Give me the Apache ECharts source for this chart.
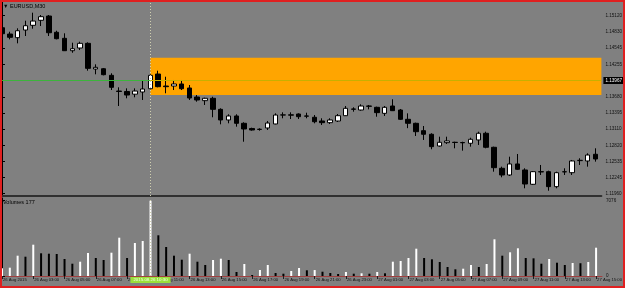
<!DOCTYPE html>
<html><head><meta charset="utf-8">
<script src="https://cdn.jsdelivr.net/npm/echarts@6/dist/echarts.min.js"></script>
<style>html,body{margin:0;padding:0;background:#808080}#c{width:625px;height:288px}</style>
</head><body><div id="c"></div>
<script>
// ---- data (EURUSD M30, one candle per half hour starting 26 Aug 2015 01:00) ----
const opens  = [1.14907,1.14795,1.14730,1.14866,1.14950,1.15039,1.15115,1.14826,1.14719,1.14499,
                1.14547,1.14630,1.14174,1.14179,1.14062,1.13783,1.13775,1.13727,1.13766,1.13824,
                1.14085,1.13872,1.13872,1.13908,1.13837,1.13677,1.13612,1.13654,1.13458,1.13269,
                1.13340,1.13210,1.13118,1.13104,1.13127,1.13198,1.13357,1.13360,1.13375,1.13340,
                1.13317,1.13251,1.13221,1.13251,1.13345,1.13464,1.13446,1.13517,1.13494,1.13387,
                1.13517,1.13446,1.13281,1.13210,1.13079,1.13015,1.12807,1.12866,1.12873,1.12869,
                1.12855,1.12914,1.13033,1.12784,1.12411,1.12292,1.12488,1.12381,1.12127,1.12351,
                1.12351,1.12085,1.12347,1.12333,1.12547,1.12541,1.12660];
const closes = [1.14801,1.14737,1.14854,1.14943,1.15026,1.15103,1.14818,1.14712,1.14499,1.14534,
                1.14630,1.14186,1.14204,1.14073,1.13849,1.13775,1.13712,1.13783,1.13819,1.14062,
                1.13860,1.13860,1.13908,1.13824,1.13659,1.13624,1.13654,1.13458,1.13269,1.13340,
                1.13210,1.13109,1.13091,1.13102,1.13215,1.13357,1.13360,1.13355,1.13327,1.13337,
                1.13238,1.13221,1.13269,1.13345,1.13476,1.13460,1.13517,1.13512,1.13399,1.13494,
                1.13434,1.13281,1.13210,1.13061,1.13015,1.12795,1.12873,1.12896,1.12869,1.12864,
                1.12926,1.13033,1.12784,1.12422,1.12292,1.12488,1.12393,1.12132,1.12351,1.12347,
                1.12085,1.12333,1.12351,1.12541,1.12553,1.12647,1.12576];
const lows   = [1.14760,1.14701,1.14630,1.14760,1.14890,1.14937,1.14760,1.14701,1.14494,1.14463,
                1.14511,1.14144,1.14080,1.14062,1.13801,1.13517,1.13654,1.13672,1.13624,1.13814,
                1.13849,1.13743,1.13801,1.13801,1.13624,1.13594,1.13535,1.13317,1.13192,1.13210,
                1.13150,1.12883,1.13079,1.13079,1.13091,1.13192,1.13299,1.13286,1.13286,1.13299,
                1.13210,1.13180,1.13198,1.13233,1.13340,1.13416,1.13434,1.13458,1.13327,1.13340,
                1.13428,1.13269,1.13124,1.12985,1.12914,1.12749,1.12795,1.12843,1.12766,1.12724,
                1.12795,1.12825,1.12766,1.12351,1.12251,1.12274,1.12381,1.12056,1.12115,1.12292,
                1.12013,1.12056,1.12292,1.12292,1.12470,1.12440,1.12529];
const highs  = [1.14937,1.14836,1.14897,1.15032,1.15174,1.15133,1.15133,1.14854,1.14808,1.14641,
                1.14659,1.14648,1.14257,1.14192,1.14098,1.13849,1.13831,1.13831,1.13979,1.14080,
                1.14144,1.14037,1.13979,1.13979,1.13890,1.13712,1.13664,1.13682,1.13476,1.13370,
                1.13370,1.13228,1.13132,1.13121,1.13251,1.13387,1.13405,1.13405,1.13387,1.13398,
                1.13357,1.13299,1.13299,1.13375,1.13517,1.13494,1.13547,1.13535,1.13505,1.13517,
                1.13636,1.13464,1.13387,1.13221,1.13162,1.13033,1.12972,1.12972,1.12883,1.12883,
                1.12954,1.13061,1.13061,1.12795,1.12440,1.12617,1.12665,1.12411,1.12363,1.12470,
                1.12369,1.12351,1.12411,1.12559,1.12589,1.12677,1.12766];
const volumes = [724,780,1908,1814,2942,2134,2096,2068,1598,1156,
                 1344,2162,1692,1504,2190,3600,1692,3102,3290,7076,
                 3826,2726,1908,1532,2096,1344,1034,1504,1626,1504,
                 376,1128,94,564,1034,282,216,470,752,536,
                 560,404,282,188,376,216,254,216,376,254,
                 1344,1410,1692,2566,1692,1570,1316,846,630,686,
                 1034,846,1128,3450,1908,2228,2604,1692,1660,1156,
                 1598,1250,1034,1222,1200,1316,2660];
const timeTickIndex  = [0,4,8,12,16,20,24,28,32,36,40,44,48,52,56,60,64,68,72,76];
const timeTickLabels = ['26 Aug 2015','26 Aug 03:00','26 Aug 05:00','26 Aug 07:00','26 Aug 09:00',
  '26 Aug 11:00','26 Aug 13:00','26 Aug 15:00','26 Aug 17:00','26 Aug 19:00','26 Aug 21:00',
  '26 Aug 23:00','27 Aug 01:00','27 Aug 03:00','27 Aug 05:00','27 Aug 07:00','27 Aug 09:00',
  '27 Aug 11:00','27 Aug 13:00','27 Aug 15:00'];
const priceTicks  = [1.15120,1.14830,1.14545,1.14255,1.13680,1.13395,1.13110,1.12820,1.12535,1.12245,1.11960];
const volumeTicks = [0,7076];
const rectStart = 19, rectHigh = 1.14375, rectLow = 1.13712;
const levelPrice = 1.13970, levelLabel = '1.13967';
const cursorIndex = 19, cursorLabel = '2015.08.26 10:30';
const titleText = '\u25BC EURUSD,M30', volumeTitle = 'Volumes 177';

// ---- view ranges ----
const xMin = 0, xMax = 76.756;
const yMin = 1.11919, yMax = 1.15364;
const volMax = 7330;
const FONT = "'Liberation Sans',Arial,sans-serif";

const candles = opens.map((o, i) => [i, o, closes[i], lows[i], highs[i]]);
const volData = volumes.map((v, i) => ({
  value: [i, v],
  itemStyle: { color: (i === 0 || v > volumes[i - 1]) ? '#ffffff' : '#000000' }
}));
const labelFor = v => { const k = timeTickIndex.indexOf(Math.round(v)); return k >= 0 ? timeTickLabels[k] : ''; };

const chart = echarts.init(document.getElementById('c'), null, { renderer: 'canvas' });
chart.setOption({
  animation: false,
  backgroundColor: '#808080',
  title: [
    { text: titleText, left: 3, top: 3, padding: 0, textStyle: { fontSize: 5.5, color: '#000', fontWeight: 'normal', fontFamily: FONT } },
    { text: volumeTitle, left: 3, top: 199, padding: 0, textStyle: { fontSize: 5.5, color: '#000', fontWeight: 'normal', fontFamily: FONT } }
  ],
  grid: [
    { left: 2, right: 22, top: 2, height: 194 },
    { left: 2, right: 22, top: 198, height: 78 }
  ],
  xAxis: [
    { gridIndex: 0, type: 'value', min: xMin, max: xMax,
      axisLine: { show: true, onZero: false, lineStyle: { color: '#303030', width: 2 } },
      axisTick: { show: false }, axisLabel: { show: false }, splitLine: { show: false } },
    { gridIndex: 1, type: 'value', min: xMin, max: xMax,
      axisLine: { show: true, onZero: false, lineStyle: { color: '#a04040', width: 1 } },
      axisTick: { show: true, customValues: timeTickIndex, length: 3, lineStyle: { color: '#202020' } },
      axisLabel: { customValues: timeTickIndex, formatter: labelFor, align: 'left', fontSize: 4.2,
        color: '#111', margin: 2, padding: [0, 0, 0, 1], fontFamily: FONT },
      splitLine: { show: false } }
  ],
  yAxis: [
    { gridIndex: 0, type: 'value', position: 'right', min: yMin, max: yMax,
      axisLine: { show: true, lineStyle: { color: '#000' } },
      axisTick: { show: true, customValues: priceTicks, length: 3, lineStyle: { color: '#000' } },
      axisLabel: { customValues: priceTicks, formatter: v => v.toFixed(5), fontSize: 4.6, color: '#111', margin: 4, fontFamily: FONT },
      splitLine: { show: false } },
    { gridIndex: 1, type: 'value', position: 'right', min: 0, max: volMax,
      axisLine: { show: true, lineStyle: { color: '#000' } },
      axisTick: { show: true, customValues: volumeTicks, length: 3, lineStyle: { color: '#000' } },
      axisLabel: { customValues: volumeTicks, formatter: v => String(v), fontSize: 4.6, color: '#111', margin: 4, fontFamily: FONT },
      splitLine: { show: false } }
  ],
  series: [
    { type: 'line', xAxisIndex: 0, yAxisIndex: 0, data: [], z: 1, silent: true,
      markArea: { silent: true, itemStyle: { color: '#FFA500', opacity: 1 },
        data: [[{ coord: [rectStart, rectHigh] }, { coord: [xMax, rectLow] }]] } },
    { type: 'line', xAxisIndex: 0, yAxisIndex: 0, data: [], z: 2, silent: true,
      markLine: { symbol: 'none', silent: true, label: { show: false },
        data: [
          [{ coord: [xMin, levelPrice], lineStyle: { color: '#3cb43c', width: 1, type: 'solid' } }, { coord: [rectStart, levelPrice] }],
          [{ coord: [rectStart, levelPrice], lineStyle: { color: '#c8b000', width: 1, type: 'solid' },
             label: { show: true, position: 'end', formatter: levelLabel, backgroundColor: '#000', color: '#fff',
               fontSize: 4.6, fontFamily: FONT, padding: [1, 3, 1, 2], distance: 2 } },
           { coord: [xMax, levelPrice] }],
          { xAxis: cursorIndex, lineStyle: { color: '#d0d0b0', width: 1, type: [1, 2] } }
        ] } },
    { type: 'candlestick', xAxisIndex: 0, yAxisIndex: 0, z: 3, data: candles,
      encode: { x: 0, y: [1, 2, 3, 4] }, barWidth: 5,
      itemStyle: { color: '#ffffff', color0: '#000000', borderColor: '#000000', borderColor0: '#000000',
        borderColorDoji: '#000000', borderWidth: 1 } },
    { type: 'bar', xAxisIndex: 1, yAxisIndex: 1, z: 3, data: volData, barWidth: 2,
      markLine: { symbol: 'none', silent: true,
        data: [{ xAxis: cursorIndex, lineStyle: { color: '#d0d0b0', width: 1, type: [1, 2] },
          label: { show: true, position: 'start', formatter: cursorLabel, backgroundColor: '#9be03a',
            color: '#f4fff0', fontSize: 4.4, fontFamily: FONT, padding: [1, 3, 1, 3], distance: 1 } }] } }
  ],
  graphic: [
    { type: 'rect', z: 100, silent: true, shape: { x: 1, y: 1, width: 623, height: 286 },
      style: { fill: null, stroke: '#e02020', lineWidth: 2 } }
  ]
});
</script></body></html>
